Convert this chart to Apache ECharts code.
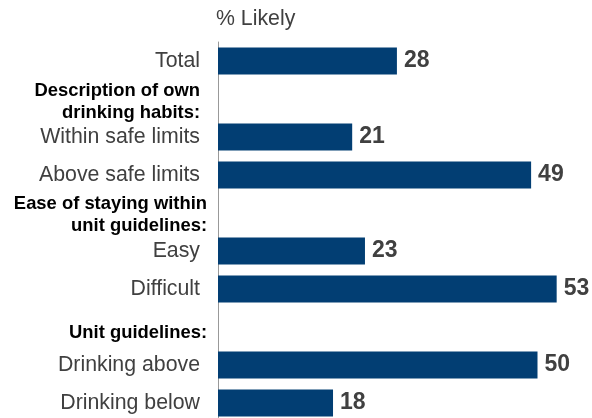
<!DOCTYPE html>
<html>
<head>
<meta charset="utf-8">
<style>
  html, body { margin: 0; padding: 0; background: #ffffff; }
  #chart { width: 592px; height: 418px; }
</style>
<script src="https://cdn.jsdelivr.net/npm/echarts@6/dist/echarts.min.js"></script>
</head>
<body>
<div id="chart"></div>
<script>
// Row labels, top to bottom; header rows carry no value
const categories = [
  'Total',
  'Description of own\ndrinking habits:',
  'Within safe limits',
  'Above safe limits',
  'Ease of staying within\nunit guidelines:',
  'Easy',
  'Difficult',
  'Unit guidelines:',
  'Drinking above',
  'Drinking below'
];
const headerRows = [
  'Description of own\ndrinking habits:',
  'Ease of staying within\nunit guidelines:',
  'Unit guidelines:'
];
// % Likely
const likely = [28, null, 21, 49, null, 23, 53, null, 50, 18];

const FONT = '"Liberation Sans", Arial, Helvetica, sans-serif';

const chart = echarts.init(document.getElementById('chart'), null, { renderer: 'canvas' });

function labelFormatter(value) {
  const idx = headerRows.indexOf(value);
  if (idx === -1) return '{n|' + value + '}';
  const style = idx === 0 ? 'h1' : (idx === 1 ? 'h2' : 'h3');
  return value.split('\n').map(function (line) { return '{' + style + '|' + line + '}'; }).join('\n');
}

chart.setOption({
  animation: false,
  backgroundColor: '#ffffff',
  title: {
    text: '% Likely',
    left: 211,
    top: 4,
    textStyle: { fontFamily: FONT, fontSize: 21.3, fontWeight: 'normal', color: '#404040' }
  },
  grid: {
    left: 218, top: 42, width: 383.4, height: 380,
    containLabel: false,
    outerBoundsMode: 'none'
  },
  xAxis: {
    type: 'value',
    min: 0,
    max: 60,
    show: false
  },
  yAxis: {
    type: 'category',
    inverse: true,
    data: categories,
    axisLine: { show: true, lineStyle: { color: '#999999', width: 1 } },
    axisTick: { show: false },
    axisLabel: {
      margin: 11,
      formatter: labelFormatter,
      rich: {
        n: { fontFamily: FONT, fontSize: 21.3, color: '#404040', padding: [0, 7, 0, 0] },
        h1: { fontFamily: FONT, fontSize: 18.4, fontWeight: 'bold', color: '#000000', lineHeight: 22, padding: [6, 7, 0, 0] },
        h2: { fontFamily: FONT, fontSize: 18.4, fontWeight: 'bold', color: '#000000', lineHeight: 22, padding: [4, 0, 0, 0] },
        h3: { fontFamily: FONT, fontSize: 18.4, fontWeight: 'bold', color: '#000000', lineHeight: 22, padding: [12, 0, 0, 0] }
      }
    }
  },
  series: [{
    type: 'bar',
    data: likely,
    barWidth: 27,
    itemStyle: { color: '#023e73' },
    label: {
      show: true,
      position: 'right',
      distance: 7,
      fontFamily: FONT,
      fontSize: 23,
      fontWeight: 'bold',
      color: '#404040'
    }
  }]
});
</script>
</body>
</html>
